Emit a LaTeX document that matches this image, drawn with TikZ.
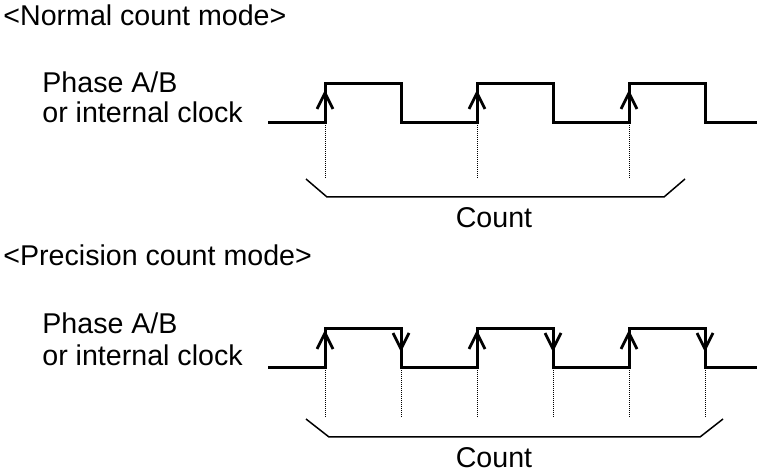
\documentclass[tikz,border=0pt]{standalone}
\usepackage{fontspec}
\setmainfont{Liberation Sans}

\newcommand{\uptick}[2]{\draw [barb] (#1-8,#2+16) -- (#1,#2) -- (#1+8,#2+16);}
\newcommand{\downtick}[2]{\draw [barb] (#1-8,#2-16) -- (#1,#2) -- (#1+8,#2-16);}

\begin{document}
\begin{tikzpicture}[x=0.5pt, y=-0.5pt,
  wave/.style={line width=1.5pt, line join=miter},
  barb/.style={line width=1.4pt, line join=miter},
  guide/.style={line width=0.5pt, dash pattern=on 0.5pt off 0.5pt},
  brace/.style={line width=0.75pt},
  label/.style={inner sep=0pt, font=\fontsize{14.3}{17}\selectfont}]
\useasboundingbox (0,0) rectangle (761,470);

% normal count mode
\node [label, anchor=base west] (titlenormal) at (3,26) {<Normal count mode>};
\node [label, anchor=base west] (phasenormal) at (42,93) {Phase A/B};
\node [label, anchor=base west] (clocknormal) at (42,123) {or internal clock};

\draw [wave] (268,123) -- (325,123) -- (325,84) -- (401,84) -- (401,123)
  -- (477,123) -- (477,84) -- (553,84) -- (553,123)
  -- (629,123) -- (629,84) -- (705,84) -- (705,123) -- (757,123);

\uptick{325}{93}
\uptick{477}{93}
\uptick{629}{93}

\draw [guide] (325,123) -- (325,178);
\draw [guide] (477,123) -- (477,178);
\draw [guide] (629,123) -- (629,178);

\draw [brace] (306,179) -- (327,197) -- (664,197) -- (685,179);
\node [label, anchor=base] (countnormal) at (494,228) {Count};

% precision count mode
\node [label, anchor=base west] (titleprecision) at (3,266) {<Precision count mode>};
\node [label, anchor=base west] (phaseprecision) at (42,334) {Phase A/B};
\node [label, anchor=base west] (clockprecision) at (42,366) {or internal clock};

\draw [wave] (268,368) -- (325,368) -- (325,329) -- (401,329) -- (401,368)
  -- (477,368) -- (477,329) -- (553,329) -- (553,368)
  -- (629,368) -- (629,329) -- (705,329) -- (705,368) -- (757,368);

\uptick{325}{333}
\uptick{477}{333}
\uptick{629}{333}
\downtick{401}{349}
\downtick{553}{349}
\downtick{705}{349}

\draw [guide] (325,368) -- (325,417);
\draw [guide] (401,368) -- (401,417);
\draw [guide] (477,368) -- (477,417);
\draw [guide] (553,368) -- (553,417);
\draw [guide] (629,368) -- (629,417);
\draw [guide] (705,368) -- (705,417);

\draw [brace] (306,419) -- (329,437) -- (700,437) -- (723,419);
\node [label, anchor=base] (countprecision) at (494,467) {Count};

\end{tikzpicture}
\end{document}
